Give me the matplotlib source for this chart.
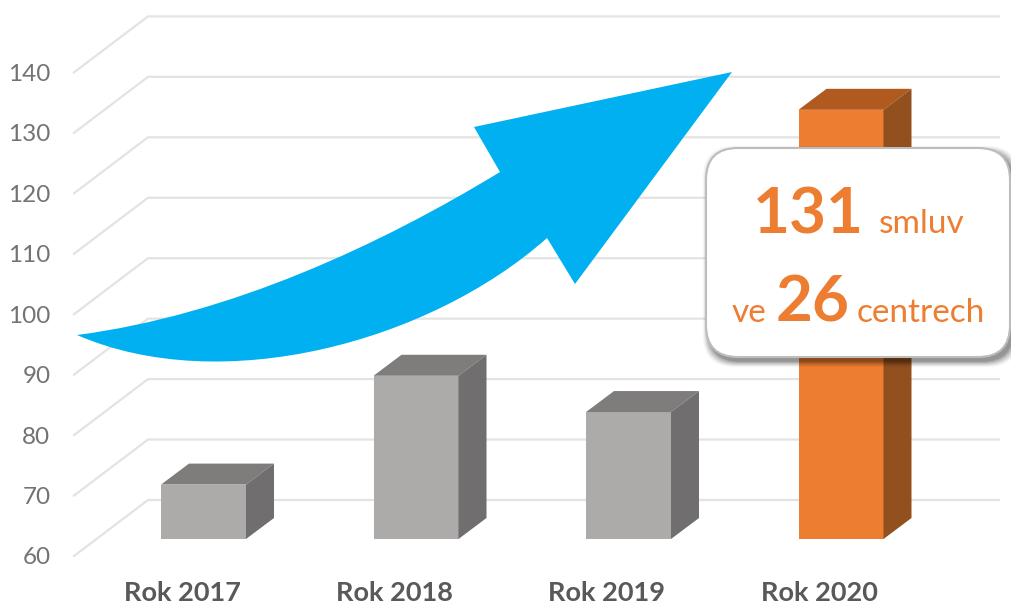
import matplotlib
matplotlib.use("Agg")
import matplotlib.pyplot as plt
from matplotlib.patches import Polygon, PathPatch, FancyBboxPatch
from matplotlib.path import Path
from matplotlib.transforms import Affine2D

categories = ["Rok 2017", "Rok 2018", "Rok 2019", "Rok 2020"]
values = [69, 87, 81, 131]
y_ticks = [60, 70, 80, 90, 100, 110, 120, 130, 140]
front_colors = ["#ADAAAA", "#ADAAAA", "#ADAAAA", "#ED7D31"]
top_colors = ["#7F7C7C", "#7F7C7C", "#7F7C7C", "#B05A20"]
side_colors = ["#706E6E", "#706E6E", "#706E6E", "#93501F"]

W, H = 1011, 605
ORANGE = "#ED7D31"
plt.rcParams["font.family"] = ["Lato", "DejaVu Sans"]
fig = plt.figure(figsize=(W / 100, H / 100), dpi=100, facecolor="white")

# front plane of the 3D chart, in reference pixels
L, R, B, T = 74, 999, 556, 5
ax = fig.add_axes([L / W, 1 - B / H, (R - L) / W, (B - T) / H])
px_x = 212.5                # pixels per category
px_y = 6.045                # pixels per value unit
x0 = 182                    # pixel of first category label
ax.set_xlim((L - x0) / px_x, (R - x0) / px_x)
ax.set_ylim(60, 60 + (B - T) / px_y)
for s in ax.spines.values():
    s.set_visible(False)
ax.set_facecolor("none")

xs = list(range(len(categories)))
ax.set_xticks(xs, categories)
ax.set_yticks(y_ticks)
ax.tick_params(axis="x", length=0, pad=18, labelsize=19.5, labelcolor="#595959")
ax.tick_params(axis="y", length=0, pad=17, labelsize=17.5, labelcolor="#737373")
for t in ax.get_xticklabels():
    t.set_fontweight("bold")

# walls: diagonal side gridline + back gridline
xmin, xmax = ax.get_xlim()
wall_dx = 74 / px_x
wall_dy = 56 / px_y
for v in y_ticks:
    ax.plot([xmin, xmin + wall_dx, xmax], [v, v + wall_dy, v + wall_dy],
            color="#E3E3E3", lw=1.6, zorder=1, solid_joinstyle="miter", clip_on=False)

# 3D bars
bar_dx = 21.5 / px_x        # shift of the bar plane
bar_dy = 17 / px_y
depth_x = 28 / px_x
depth_y = 21 / px_y
bar_w = 85 / px_x
for i, v in enumerate(values):
    cx = xs[i] + bar_dx
    l, r = cx - bar_w / 2, cx + bar_w / 2
    base = 60 + bar_dy
    top = v + bar_dy
    ax.bar(cx, v - 60, width=bar_w, bottom=base, color=front_colors[i], zorder=2, linewidth=0)
    ax.add_patch(Polygon([(l, top), (r, top), (r + depth_x, top + depth_y), (l + depth_x, top + depth_y)],
                         closed=True, fc=top_colors[i], ec="none", zorder=2))
    ax.add_patch(Polygon([(r, base), (r, top), (r + depth_x, top + depth_y), (r + depth_x, base + depth_y)],
                         closed=True, fc=side_colors[i], ec="none", zorder=2))

# overlay in reference pixel coordinates (y down)
px = Affine2D().scale(1, -1).translate(0, H)

arrow_verts = [(77, 335), (230, 315), (380, 245), (500, 172),
               (474, 127), (732, 72), (575, 284), (547, 238),
               (430, 342), (222, 398), (77, 335), (77, 335)]
arrow_codes = [Path.MOVETO, Path.CURVE4, Path.CURVE4, Path.CURVE4,
               Path.LINETO, Path.LINETO, Path.LINETO, Path.LINETO,
               Path.CURVE4, Path.CURVE4, Path.CURVE4, Path.CLOSEPOLY]
fig.add_artist(PathPatch(Path(arrow_verts, arrow_codes), fc="#00B0F0", ec="none",
                         transform=px, zorder=5))

# callout box with soft shadow
bx, by, bw, bh = 706, 148, 304, 209
for k, a in zip(range(9, 0, -1), [0.02, 0.03, 0.04, 0.05, 0.05, 0.06, 0.07, 0.08, 0.10]):
    fig.add_artist(FancyBboxPatch((bx + 3, by + 4), bw, bh,
                                  boxstyle=f"round,pad={k * 0.7},rounding_size=32",
                                  fc="#000000", ec="none", alpha=a, transform=px, zorder=6))
fig.add_artist(FancyBboxPatch((bx, by), bw, bh, boxstyle="round,pad=0,rounding_size=32",
                              fc="white", ec="#BDBDBD", lw=1.5, transform=px, zorder=7))

def label(x, y, s, size, weight="normal"):
    fig.text(x, y, s, transform=px, color=ORANGE, fontsize=size, fontweight=weight,
             ha="left", va="baseline", zorder=8)

label(753, 233, "131", 46, "bold")
label(879, 233, "smluv", 24)
label(732, 322, "ve", 24)
label(776, 322, "26", 46, "bold")
label(857, 322, "centrech", 24)

fig.savefig("out.png", dpi=100, facecolor="white")
